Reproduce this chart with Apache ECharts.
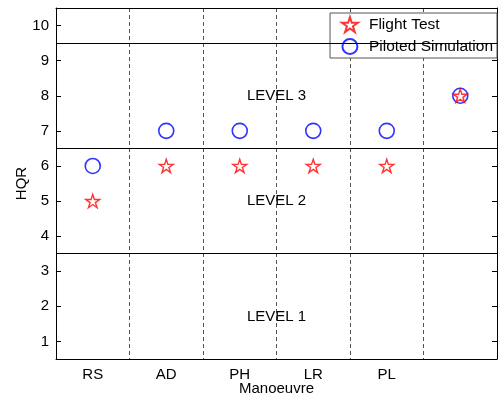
<!DOCTYPE html>
<html>
<head>
<meta charset="utf-8">
<script src="https://cdn.jsdelivr.net/npm/echarts@6/dist/echarts.min.js"></script>
<style>
  html, body { margin: 0; padding: 0; background: #fff; }
  #chart { width: 499px; height: 398px; }
</style>
</head>
<body>
<div id="chart"></div>
<script>
// manoeuvres (last column has no label)
let manoeuvres = ['RS', 'AD', 'PH', 'LR', 'PL', ''];
let flightTest = [5, 6, 6, 6, 6, 8];
let pilotedSim = [6, 7, 7, 7, 7, 8];
let yTicks = [1, 2, 3, 4, 5, 6, 7, 8, 9, 10];
// level boundaries and labels
let levelBounds = [3.5, 6.5, 9.5];
let levelNames = ['LEVEL 1', 'LEVEL 2', 'LEVEL 3'];
let levelY = [1.7, 5, 8];
let levelX = [2.5, 2.5, 2.5];

let font = 'Liberation Sans, Arial, sans-serif';
let fs = 15;
let starPath = 'path://M50,0L61.17,34.63L97.55,34.55L68.07,55.87L79.39,90.45L50,69L20.61,90.45L31.93,55.87L2.45,34.55L38.83,34.63Z';

let myChart = echarts.init(document.getElementById('chart'));

let option = {
    animation: false,
    textStyle: { fontFamily: font },
    grid: { left: 56, right: 2, top: 8, bottom: 39, outerBoundsMode: 'none' },
    legend: {
        data: ['Flight Test', 'Piloted Simulation'],
        orient: 'vertical',
        right: 2,
        top: 13,
        padding: [3, 4, 3, 11],
        itemGap: 5,
        itemWidth: 16,
        itemHeight: 15,
        backgroundColor: '#fff',
        borderColor: '#555',
        borderWidth: 1,
        borderRadius: 0,
        textStyle: { fontSize: 15.5, color: '#000', fontFamily: font, padding: [0, 0, 0, 6] }
    },
    xAxis: [
        {
            type: 'category',
            data: manoeuvres,
            boundaryGap: true,
            name: 'Manoeuvre',
            nameLocation: 'middle',
            nameGap: 22,
            nameMoveOverlap: false,
            nameTextStyle: { fontSize: fs, color: '#000' },
            axisLine: { onZero: false, lineStyle: { color: '#000', width: 1 } },
            axisTick: { inside: true, length: 5, alignWithLabel: true, interval: (i) => i < 5, lineStyle: { color: '#000' } },
            axisLabel: { fontSize: fs, color: '#000', margin: 8 },
            splitLine: { show: true, interval: 0, lineStyle: { color: '#555', type: [4, 3], width: 1 } }
        },
        {
            type: 'category',
            data: manoeuvres,
            position: 'top',
            boundaryGap: true,
            axisLine: { onZero: false, lineStyle: { color: '#000', width: 1 } },
            axisTick: { inside: true, length: 5, alignWithLabel: true, interval: (i) => i < 5, lineStyle: { color: '#000' } },
            axisLabel: { show: false },
            splitLine: { show: false }
        },
        {
            type: 'value',
            show: false,
            min: -0.5,
            max: 5.5,
            axisLine: { onZero: false }
        }
    ],
    yAxis: [
        {
            type: 'value',
            min: 0.5,
            max: 10.5,
            name: 'HQR',
            nameLocation: 'middle',
            nameGap: 27,
            nameMoveOverlap: false,
            nameTextStyle: { fontSize: fs, color: '#000' },
            axisLine: { show: true, onZero: false, lineStyle: { color: '#000', width: 1 } },
            axisTick: { show: true, inside: true, length: 5, customValues: yTicks, lineStyle: { color: '#000' } },
            axisLabel: { fontSize: fs, color: '#000', margin: 7, customValues: yTicks },
            splitLine: { show: false }
        },
        {
            type: 'value',
            min: 0.5,
            max: 10.5,
            position: 'right',
            axisLine: { show: true, onZero: false, lineStyle: { color: '#000', width: 1 } },
            axisTick: { show: true, inside: true, length: 5, customValues: yTicks, lineStyle: { color: '#000' } },
            axisLabel: { show: false },
            splitLine: { show: false }
        }
    ],
    series: [
        {
            name: 'Levels',
            type: 'scatter',
            xAxisIndex: 2,
            yAxisIndex: 0,
            silent: true,
            symbolSize: 1,
            itemStyle: { color: 'transparent' },
            data: levelY.map((y, i) => [levelX[i], y, levelNames[i]]),
            label: {
                show: true,
                position: 'inside',
                formatter: (p) => p.data[2],
                fontSize: fs,
                color: '#000',
                textBorderWidth: 0,
                textBorderColor: 'transparent',
                opacity: 1,
                fontFamily: font
            },
            markLine: {
                silent: true,
                symbol: ['none', 'none'],
                label: { show: false },
                lineStyle: { color: '#000', type: 'solid', width: 1 },
                data: levelBounds.map(v => ({ yAxis: v }))
            }
        },
        {
            name: 'Piloted Simulation',
            type: 'scatter',
            xAxisIndex: 0,
            yAxisIndex: 0,
            symbol: 'circle',
            symbolSize: 15,
            itemStyle: { color: '#fff', borderColor: '#0000ff', borderWidth: 1.6 },
            data: pilotedSim
        },
        {
            name: 'Flight Test',
            type: 'scatter',
            xAxisIndex: 0,
            yAxisIndex: 0,
            symbol: starPath,
            symbolKeepAspect: true,
            symbolSize: 14,
            itemStyle: { color: '#fff', borderColor: '#ff0000', borderWidth: 1.4 },
            data: flightTest
        }
    ]
};

myChart.setOption(option);
</script>
</body>
</html>
